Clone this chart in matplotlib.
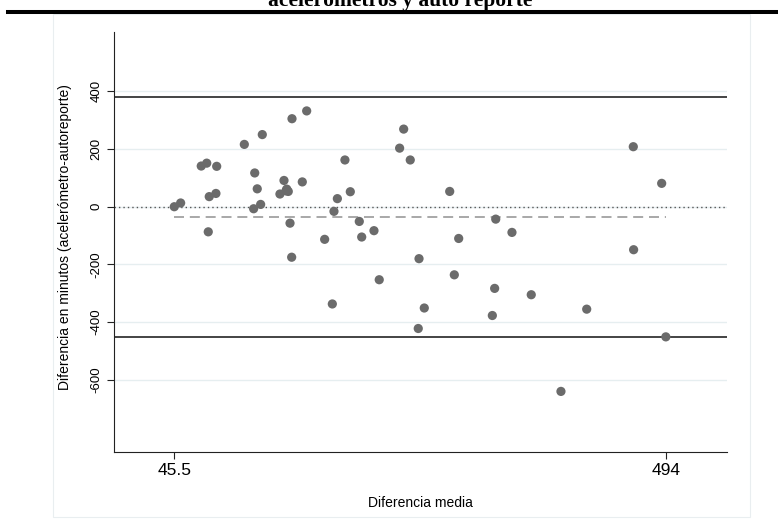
import matplotlib
matplotlib.use('Agg')
import matplotlib.pyplot as plt
from matplotlib.lines import Line2D
from matplotlib.patches import Rectangle

# media de ambos metodos (eje x) y diferencia acelerometro - autoreporte (eje y)
media = [45.5, 51.3, 70.1, 75.1, 84.2, 77.4, 83.5, 76.5, 109.4, 125.8,
         152.9, 166.3, 118.9, 121.2, 117.9, 124.3, 145.6, 141.9, 147.4, 149.5,
         148.1, 162.3, 151.1, 152.6, 201.2, 194.3, 206.1, 191.2, 214.3, 182.7,
         216.5, 227.7, 268.8, 254.8, 251.1, 260.8, 296.8, 305.0, 189.7, 232.5,
         301.0, 273.6, 268.1, 337.8, 335.7, 464.3, 490.2, 338.8, 353.6, 464.6,
         371.2, 421.8, 494.0, 398.3]
diferencia = [0, 13, 141, 151, 140, 35, 46, -87, 216, 250,
              305, 332, 117, 62, -7, 8, 91, 44, 55, 53,
              61, 86, -57, -175, 162, 28, 52, -16, -51, -113,
              -105, -83, -180, 269, 203, 162, 53, -110, -337, -253,
              -236, -351, -422, -283, -377, 208, 81, -43, -89, -149,
              -305, -355, -451, -640]

sesgo = -36
lim_sup = 379
lim_inf = -452
x_ticks = [45.5, 494]
y_ticks = [-600, -400, -200, 0, 200, 400]

W, H = 778, 529
fig = plt.figure(figsize=(W / 100, H / 100), dpi=100)
fig.patch.set_facecolor('white')

# caption cut at the top + thick rule
fig.text(400 / W, 1 - 6 / H, 'acelerómetros y auto reporte', ha='center', va='baseline',
         fontsize=15.5, fontweight='bold', family='Liberation Serif')
fig.add_artist(Line2D([8 / W, 1], [1 - 12 / H, 1 - 12 / H], color='black', lw=2.9,
                      transform=fig.transFigure))
# faint graph region border
fig.add_artist(Rectangle((53 / W, 1 - 517 / H), (750 - 53) / W, (517 - 14) / H,
                         transform=fig.transFigure, fill=False, edgecolor='#e9eef0', lw=0.8))

ax = fig.add_axes([114 / W, 1 - 452 / H, (727 - 114) / W, (452 - 32) / H])
ax.set_xlim(-9.5, 549.8)
ax.set_ylim(-850, 605.5)

for yv in y_ticks:
    ax.axhline(yv, color='#e6eef0', lw=1.0, zorder=0)

ax.axhline(lim_sup, color='#111111', lw=1.1, zorder=1)
ax.axhline(lim_inf, color='#111111', lw=1.1, zorder=1)
ax.axhline(0, color='#555555', lw=1.0, ls=(0, (1, 2.2)), zorder=1)
ax.plot([min(media), max(media)], [sesgo, sesgo], color='#9a9a9a', lw=1.2,
        ls=(0, (6, 3.5)), zorder=1)

ax.scatter(media, diferencia, s=44, color='#6b6b6b', edgecolors='none', zorder=3)

ax.spines['top'].set_visible(False)
ax.spines['right'].set_visible(False)
ax.spines['left'].set_color('#222222')
ax.spines['bottom'].set_color('#222222')

ax.set_xticks(x_ticks)
ax.set_xticklabels(['45.5', '494'], fontsize=12.5, family='Liberation Sans')
ax.set_yticks(y_ticks)
ax.set_yticklabels([str(v) for v in y_ticks], fontsize=9.5, family='Liberation Sans',
                   rotation=90, va='center')
ax.tick_params(axis='x', length=5, width=0.8, color='#222222', pad=3)
ax.tick_params(axis='y', length=5, width=0.8, color='#222222', pad=3.5)

ax.set_xlabel('Diferencia media', fontsize=10, family='Liberation Sans')
ax.xaxis.set_label_coords(0.5, (452 - 503) / 420)
ax.xaxis.label.set_va('center')
ax.set_ylabel('Diferencia en minutos (acelerómetro-autoreporte)', fontsize=10,
              family='Liberation Sans')
ax.yaxis.set_label_coords((65 - 114) / 613, 0.512)
ax.yaxis.label.set_va('center')

plt.savefig('out.png', dpi=100)
